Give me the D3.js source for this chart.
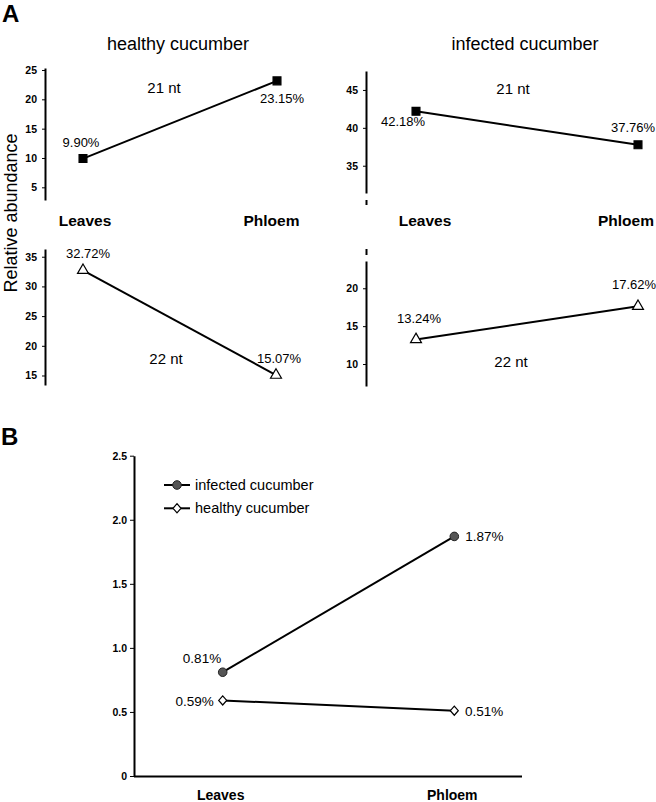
<!DOCTYPE html>
<html>
<head>
<meta charset="utf-8">
<script src="https://cdn.jsdelivr.net/npm/d3@7"></script>
<style>
  body { margin: 0; background: #fff; }
  svg { display: block; font-family: "Liberation Sans", Arial, sans-serif; }
</style>
</head>
<body>
<script>
// data
const categories = ['Leaves', 'Phloem'];
const healthy21 = [9.90, 23.15];
const infected21 = [42.18, 37.76];
const healthy22 = [32.72, 15.07];
const infected22 = [13.24, 17.62];
const infectedB = [0.81, 1.87];
const healthyB = [0.59, 0.51];

const ticksTL = [5, 10, 15, 20, 25];
const ticksTR = [35, 40, 45];
const ticksBL = [15, 20, 25, 30, 35];
const ticksBR = [10, 15, 20];
const ticksB = [0, 0.5, 1.0, 1.5, 2.0, 2.5];
const tickLabelsB = ['0', '0.5', '1.0', '1.5', '2.0', '2.5'];

const width = 656, height = 802;

let svg = d3.select('body')
  .append('svg')
  .attr('width', width)
  .attr('height', height)
  .style('background', '#fff');

// panel letters
svg.append('text').text('A').attr('x', 2).attr('y', 22)
  .attr('font-size', 24).attr('font-weight', 'bold');
svg.append('text').text('B').attr('x', 1).attr('y', 445)
  .attr('font-size', 24).attr('font-weight', 'bold');

// y label
svg.append('text').text('Relative abundance')
  .attr('transform', 'translate(16.5,213) rotate(-90)')
  .attr('text-anchor', 'middle')
  .attr('font-size', 18);

// titles
svg.append('text').text('healthy cucumber').attr('x', 178).attr('y', 50)
  .attr('text-anchor', 'middle').attr('font-size', 18);
svg.append('text').text('infected cucumber').attr('x', 525).attr('y', 50)
  .attr('text-anchor', 'middle').attr('font-size', 18);

const tri = d3.symbol(d3.symbolTriangle, 52)();
const sq = d3.symbol(d3.symbolSquare, 62)();

// panel A: four small line panels
const panels = [
  { values: healthy21, ticks: ticksTL, ax: 45, domain: [2.84, 25.34], range: [200, 68], xr: [83, 277],
    marker: sq, fill: '#000', off: [[-2, -12], [5, 22]], nt: '21 nt', ntPos: [164, 93],
    catLabels: [85, 271.5] },
  { values: infected21, ticks: ticksTR, ax: 366, domain: [31.4, 47.5], range: [193, 71], xr: [416, 638],
    marker: sq, fill: '#000', off: [[-13, 15], [-5, -13]], nt: '21 nt', ntPos: [513, 94],
    catLabels: [425, 626], brk: [200, 205] },
  { values: healthy22, ticks: ticksBL, ax: 45, domain: [13.4, 36.3], range: [385, 249], xr: [83, 276],
    marker: tri, fill: '#fff', off: [[5, -12], [3, -12.4]], nt: '22 nt', ntPos: [166, 364] },
  { values: infected22, ticks: ticksBR, ax: 366, domain: [7.1, 23.6], range: [386, 261], xr: [416, 638],
    marker: tri, fill: '#fff', off: [[3, -16], [-4, -17]], nt: '22 nt', ntPos: [511, 367],
    brk: [249, 255] }
];

panels.forEach(p => {
  let y = d3.scaleLinear().domain(p.domain).range(p.range);
  let x = d3.scalePoint().domain(categories).range(p.xr);
  let g = svg.append('g');

  let axis = g.append('g')
    .attr('transform', `translate(${p.ax},0)`)
    .call(d3.axisLeft(y).tickValues(p.ticks).tickSize(3).tickSizeOuter(0).tickPadding(5));
  axis.select('.domain').attr('stroke-width', 2);
  axis.selectAll('text').attr('font-size', 10.5).attr('font-weight', 'bold')
    .attr('font-family', '"Liberation Sans", Arial, sans-serif');

  if (p.brk) {
    g.append('line').attr('x1', p.ax + 0.5).attr('x2', p.ax + 0.5)
      .attr('y1', p.brk[0]).attr('y2', p.brk[1])
      .attr('stroke', '#000').attr('stroke-width', 2);
  }

  let pts = categories.map((c, i) => ({ c: c, v: p.values[i] }));

  g.append('path').datum(pts)
    .attr('d', d3.line().x(d => x(d.c)).y(d => y(d.v)))
    .attr('fill', 'none').attr('stroke', '#000').attr('stroke-width', 2);

  g.selectAll('.mk').data(pts).enter().append('path')
    .attr('d', p.marker)
    .attr('transform', d => `translate(${x(d.c)},${y(d.v)})`)
    .attr('fill', p.fill).attr('stroke', '#000').attr('stroke-width', 1.2);

  g.selectAll('.vl').data(pts).enter().append('text')
    .text(d => d.v.toFixed(2) + '%')
    .attr('x', (d, i) => x(d.c) + p.off[i][0])
    .attr('y', (d, i) => y(d.v) + p.off[i][1])
    .attr('text-anchor', 'middle')
    .attr('font-size', 13);

  g.append('text').text(p.nt)
    .attr('x', p.ntPos[0]).attr('y', p.ntPos[1])
    .attr('text-anchor', 'middle').attr('font-size', 15);

  if (p.catLabels) {
    g.selectAll('.cat').data(categories).enter().append('text')
      .text(d => d)
      .attr('x', (d, i) => p.catLabels[i])
      .attr('y', 226)
      .attr('text-anchor', 'middle')
      .attr('font-size', 15.5).attr('font-weight', 'bold');
  }
});

// panel B
let yB = d3.scaleLinear().domain([0, 2.5]).range([776, 455.7]);
let xB = d3.scalePoint().domain(categories).range([222.7, 454.3]);
let gB = svg.append('g');

let axB = gB.append('g')
  .attr('transform', 'translate(134,0)')
  .call(d3.axisLeft(yB).tickValues(ticksB).tickFormat((d, i) => tickLabelsB[i])
    .tickSize(4).tickSizeOuter(0).tickPadding(3));
axB.select('.domain').attr('stroke-width', 2);
axB.selectAll('text').attr('font-size', 10.5).attr('font-weight', 'bold')
  .attr('font-family', '"Liberation Sans", Arial, sans-serif');

gB.append('line')
  .attr('x1', 134).attr('x2', 522)
  .attr('y1', yB(0) + 0.5).attr('y2', yB(0) + 0.5)
  .attr('stroke', '#000').attr('stroke-width', 2);

gB.selectAll('.cat').data(categories).enter().append('text')
  .text(d => d)
  .attr('x', d => xB(d) - 2)
  .attr('y', 800)
  .attr('text-anchor', 'middle')
  .attr('font-size', 14).attr('font-weight', 'bold');

const diamondType = {
  draw(ctx, size) {
    let w = 4, h = 4.6;
    ctx.moveTo(0, -h); ctx.lineTo(w, 0); ctx.lineTo(0, h); ctx.lineTo(-w, 0); ctx.closePath();
  }
};
const diamond = d3.symbol(diamondType, 1)();

const seriesB = [
  { name: 'infected cucumber', values: infectedB, shape: 'circle', fill: '#555',
    off: [[-20.7, -9, 'middle'], [11, 5, 'start']] },
  { name: 'healthy cucumber', values: healthyB, shape: 'diamond', fill: '#fff',
    off: [[-9, 5.6, 'end'], [10.7, 5.3, 'start']] }
];

seriesB.forEach((s, si) => {
  let pts = categories.map((c, i) => ({ c: c, v: s.values[i] }));
  gB.append('path').datum(pts)
    .attr('d', d3.line().x(d => xB(d.c)).y(d => yB(d.v)))
    .attr('fill', 'none').attr('stroke', '#000').attr('stroke-width', 2);

  pts.forEach((d, i) => {
    if (s.shape === 'circle') {
      gB.append('circle').attr('cx', xB(d.c)).attr('cy', yB(d.v)).attr('r', 4.3)
        .attr('fill', s.fill).attr('stroke', '#222').attr('stroke-width', 1);
    } else {
      gB.append('path').attr('d', diamond)
        .attr('transform', `translate(${xB(d.c)},${yB(d.v)})`)
        .attr('fill', s.fill).attr('stroke', '#000').attr('stroke-width', 1.2);
    }
    gB.append('text').text(d.v.toFixed(2) + '%')
      .attr('x', xB(d.c) + s.off[i][0])
      .attr('y', yB(d.v) + s.off[i][1])
      .attr('text-anchor', s.off[i][2])
      .attr('font-size', 13.5);
  });

  // legend
  let ly = 485 + si * 23.3;
  gB.append('line').attr('x1', 164).attr('x2', 190).attr('y1', ly).attr('y2', ly)
    .attr('stroke', '#000').attr('stroke-width', 2);
  if (s.shape === 'circle') {
    gB.append('circle').attr('cx', 177).attr('cy', ly).attr('r', 4.3)
      .attr('fill', s.fill).attr('stroke', '#222').attr('stroke-width', 1);
  } else {
    gB.append('path').attr('d', diamond).attr('transform', `translate(177,${ly})`)
      .attr('fill', s.fill).attr('stroke', '#000').attr('stroke-width', 1.2);
  }
  gB.append('text').text(s.name).attr('x', 195).attr('y', ly + 5)
    .attr('font-size', 14.5);
});
</script>
</body>
</html>
